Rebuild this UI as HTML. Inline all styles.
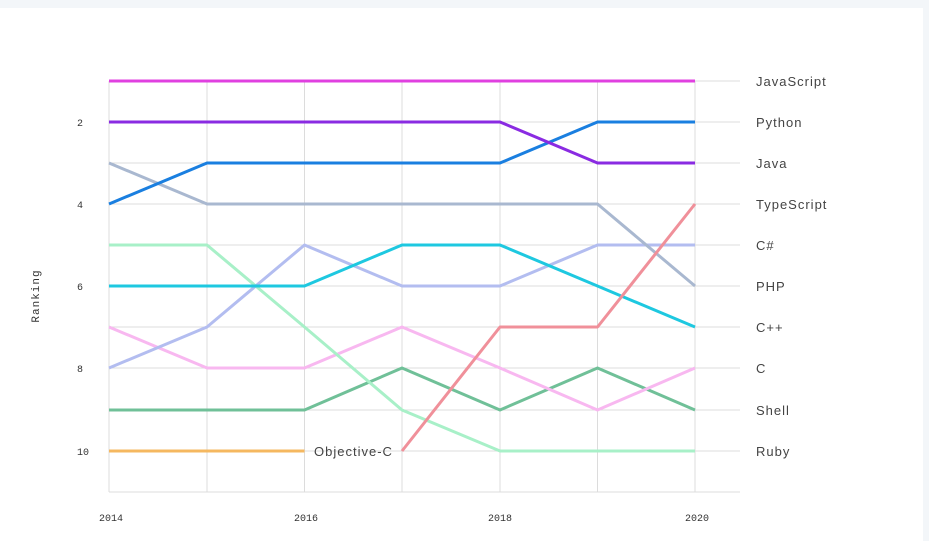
<!DOCTYPE html>
<html><head><meta charset="utf-8"><style>
body{margin:0;background:#fff;}
</style></head><body>
<svg width="929" height="541" xmlns="http://www.w3.org/2000/svg" style="display:block">
<rect x="0" y="0" width="929" height="541" fill="#fff"/>
<rect x="0" y="0" width="929" height="8" fill="#f3f6f9"/>
<rect x="923" y="0" width="6" height="541" fill="#f3f6f9"/>
<g stroke="#dcdcdc" stroke-width="1">
<line x1="109" y1="81" x2="109" y2="492"/>
<line x1="207" y1="81" x2="207" y2="492"/>
<line x1="304.5" y1="81" x2="304.5" y2="492"/>
<line x1="402" y1="81" x2="402" y2="492"/>
<line x1="500" y1="81" x2="500" y2="492"/>
<line x1="597.5" y1="81" x2="597.5" y2="492"/>
<line x1="695" y1="81" x2="695" y2="492"/>
<line x1="109" y1="492" x2="740" y2="492"/>
<line x1="109" y1="81" x2="740" y2="81"/>
<line x1="109" y1="122" x2="740" y2="122"/>
<line x1="109" y1="163" x2="740" y2="163"/>
<line x1="109" y1="204" x2="740" y2="204"/>
<line x1="109" y1="245" x2="740" y2="245"/>
<line x1="109" y1="286" x2="740" y2="286"/>
<line x1="109" y1="327" x2="740" y2="327"/>
<line x1="109" y1="368" x2="740" y2="368"/>
<line x1="109" y1="410" x2="740" y2="410"/>
<line x1="109" y1="451" x2="740" y2="451"/>
</g>
<g fill="none" stroke-width="3" stroke-linejoin="round">
<polyline stroke="#f5b860" points="109,451 207,451 304.5,451"/>
<polyline stroke="#70c098" points="109,410 207,410 304.5,410 402,368 500,410 597.5,368 695,410"/>
<polyline stroke="#f8b8f0" points="109,327 207,368 304.5,368 402,327 500,368 597.5,410 695,368"/>
<polyline stroke="#a8f0c8" points="109,245 207,245 304.5,327 402,410 500,451 597.5,451 695,451"/>
<polyline stroke="#b3bdf0" points="109,368 207,327 304.5,245 402,286 500,286 597.5,245 695,245"/>
<polyline stroke="#1ec8e0" points="109,286 207,286 304.5,286 402,245 500,245 597.5,286 695,327"/>
<polyline stroke="#a9b8d0" points="109,163 207,204 304.5,204 402,204 500,204 597.5,204 695,286"/>
<polyline stroke="#f0909a" points="402,451 500,327 597.5,327 695,204"/>
<polyline stroke="#1a7fe0" points="109,204 207,163 304.5,163 402,163 500,163 597.5,122 695,122"/>
<polyline stroke="#8a2be2" points="109,122 207,122 304.5,122 402,122 500,122 597.5,163 695,163"/>
<polyline stroke="#e040e0" points="109,81 695,81"/>
</g>
<g font-family="Liberation Sans, sans-serif" font-size="13" fill="#444" letter-spacing="1">
<text x="756" y="86">JavaScript</text>
<text x="756" y="127">Python</text>
<text x="756" y="168">Java</text>
<text x="756" y="209">TypeScript</text>
<text x="756" y="250">C#</text>
<text x="756" y="291">PHP</text>
<text x="756" y="332">C++</text>
<text x="756" y="373">C</text>
<text x="756" y="415">Shell</text>
<text x="756" y="456">Ruby</text>
<text x="314" y="456">Objective-C</text>
</g>
<g font-family="Liberation Mono, monospace" font-size="10" fill="#333">
<text x="80" y="126" text-anchor="middle">2</text>
<text x="80" y="208" text-anchor="middle">4</text>
<text x="80" y="290" text-anchor="middle">6</text>
<text x="80" y="372" text-anchor="middle">8</text>
<text x="83" y="455" text-anchor="middle">10</text>
<text x="111" y="521" text-anchor="middle">2014</text>
<text x="306" y="521" text-anchor="middle">2016</text>
<text x="500" y="521" text-anchor="middle">2018</text>
<text x="697" y="521" text-anchor="middle">2020</text>
<text x="0" y="0" transform="translate(39,296) rotate(-90)" text-anchor="middle" font-size="11" letter-spacing="1">Ranking</text>
</g>
</svg>
</body></html>
